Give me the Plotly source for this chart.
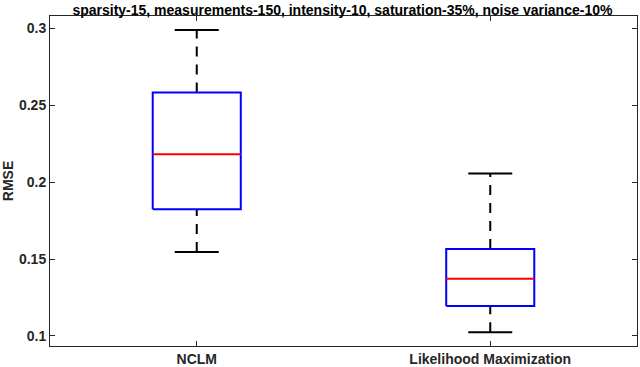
import plotly.graph_objects as go

categories = ["NCLM", "Likelihood Maximization"]
lower_whisker = [0.1545, 0.1024]
q1 = [0.1823, 0.1195]
median = [0.2180, 0.1372]
q3 = [0.2582, 0.1565]
upper_whisker = [0.2987, 0.2056]

title = "sparsity-15, measurements-150, intensity-10, saturation-35%, noise variance-10%"

box_half = 0.15
cap_half = 0.075
pos = [1, 2]


def segs(pairs):
    xs, ys = [], []
    for (x0, y0, x1, y1) in pairs:
        xs += [x0, x1, None]
        ys += [y0, y1, None]
    return xs, ys


fig = go.Figure()

# dashed whiskers
wx, wy = segs([(p, q3[i], p, upper_whisker[i]) for i, p in enumerate(pos)] +
              [(p, lower_whisker[i], p, q1[i]) for i, p in enumerate(pos)])
fig.add_trace(go.Scatter(x=wx, y=wy, mode="lines",
                         line=dict(color="black", width=2, dash="10px,8px")))

# caps
cx, cy = segs([(p - cap_half, upper_whisker[i], p + cap_half, upper_whisker[i]) for i, p in enumerate(pos)] +
              [(p - cap_half, lower_whisker[i], p + cap_half, lower_whisker[i]) for i, p in enumerate(pos)])
fig.add_trace(go.Scatter(x=cx, y=cy, mode="lines", line=dict(color="black", width=2)))

# boxes
bx, by = [], []
for i, p in enumerate(pos):
    bx += [p - box_half, p + box_half, p + box_half, p - box_half, p - box_half, None]
    by += [q1[i], q1[i], q3[i], q3[i], q1[i], None]
fig.add_trace(go.Scatter(x=bx, y=by, mode="lines", line=dict(color="#0000ff", width=2)))

# medians
mx, my = segs([(p - box_half, median[i], p + box_half, median[i]) for i, p in enumerate(pos)])
fig.add_trace(go.Scatter(x=mx, y=my, mode="lines", line=dict(color="#ff0000", width=2)))

fig.update_layout(
    width=640, height=367,
    margin=dict(l=50, r=3, t=16, b=21),
    paper_bgcolor="white", plot_bgcolor="white",
    showlegend=False,
    font=dict(family="Liberation Sans, Arial", size=14, color="#262626"),
    title=dict(text="<b>" + title + "</b>", x=0.535, xanchor="center",
               yref="container", y=0.985, yanchor="top",
               font=dict(size=14, color="black")),
)
fig.update_xaxes(
    range=[0.5, 2.5], tickvals=pos, ticktext=["<b>" + c + "</b>" for c in categories],
    showgrid=False, zeroline=False, showline=True, linecolor="#262626", linewidth=1,
    mirror="ticks", ticks="inside", ticklen=5, tickcolor="#262626", tickfont=dict(size=14),
    automargin=False,
)
fig.update_yaxes(
    range=[0.0935, 0.3078], tickvals=[0.1, 0.15, 0.2, 0.25, 0.3],
    ticktext=["<b>0.1</b>", "<b>0.15</b>", "<b>0.2</b>", "<b>0.25</b>", "<b>0.3</b>"],
    showgrid=False, zeroline=False, showline=True, linecolor="#262626", linewidth=1,
    mirror="ticks", ticks="inside", ticklen=5, tickcolor="#262626", tickfont=dict(size=14),
    title=dict(text="<b>RMSE</b>", font=dict(size=14), standoff=6),
    automargin=False,
)

# the page's body margin would push the figure 8px off the corner
fig.write_html("out.html", config={"displayModeBar": False},
               post_script="document.body.style.margin='0';")
